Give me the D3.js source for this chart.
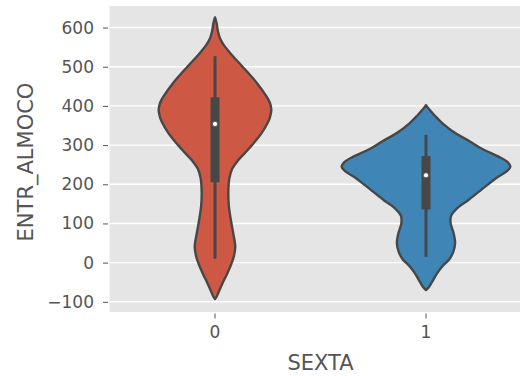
<!DOCTYPE html>
<html>
<head>
<meta charset="utf-8">
<script src="https://cdn.jsdelivr.net/npm/d3@7/dist/d3.min.js"></script>
<style>
  html, body { margin: 0; padding: 0; background: #ffffff; }
  svg { display: block; font-family: "DejaVu Sans", sans-serif; }
</style>
</head>
<body>
<svg id="chart" width="520" height="376"></svg>
<script>
// Categories on the x axis
const categories = ["0", "1"];
const xTitle = "SEXTA";
const yTitle = "ENTR_ALMOCO";
const yTicks = [-100, 0, 100, 200, 300, 400, 500, 600];

// Kernel density estimate of ENTR_ALMOCO for SEXTA = 0
const kdeValues0 = [626, 612, 590, 570, 555, 530, 500, 460, 425, 408, 390, 374, 360, 330, 290, 260, 240, 215, 180, 145, 110, 75, 40, 15, -10, -30, -53, -70, -85, -93];
const kdeDensity0 = [0, 0.018, 0.035, 0.064, 0.105, 0.199, 0.327, 0.491, 0.608, 0.650, 0.667, 0.655, 0.632, 0.550, 0.398, 0.269, 0.205, 0.170, 0.158, 0.164, 0.187, 0.216, 0.240, 0.222, 0.181, 0.140, 0.088, 0.053, 0.023, 0];

// Kernel density estimate of ENTR_ALMOCO for SEXTA = 1
const kdeValues1 = [402, 392, 375, 355, 330, 310, 290, 270, 256, 245, 234, 219, 194, 160, 140, 120, 100, 75, 50, 30, 10, -11, -28, -50, -62, -70];
const kdeDensity1 = [0, 0.035, 0.105, 0.199, 0.351, 0.515, 0.667, 0.865, 0.970, 1.0, 0.962, 0.854, 0.702, 0.503, 0.374, 0.298, 0.292, 0.327, 0.345, 0.327, 0.281, 0.187, 0.129, 0.070, 0.035, 0];

// Box summary per category: lower whisker, Q1, median, Q3, upper whisker
const whiskerLow = [10, 15];
const q1 = [205, 136];
const median = [354, 223];
const q3 = [422, 272];
const whiskerHigh = [527, 326];

const fills = ["#CD5945", "#3F86B6"];
const gray = "#474747";
const textColor = "#555555";

const violins = [
  { cat: categories[0], values: kdeValues0, density: kdeDensity0 },
  { cat: categories[1], values: kdeValues1, density: kdeDensity1 }
];

const svg = d3.select("#chart");
const panel = { left: 109.5, right: 531.5, top: 6, bottom: 312 };

const x = d3.scaleBand()
  .domain(categories)
  .range([panel.left, panel.right])
  .paddingInner(0).paddingOuter(0);
const xc = c => x(c) + x.bandwidth() / 2;

const y = d3.scaleLinear()
  .domain([-126, 655])
  .range([panel.bottom, panel.top]);

const maxDensity = d3.max(violins, v => d3.max(v.density));
const w = d3.scaleLinear()
  .domain([0, maxDensity])
  .range([0, x.bandwidth() * 0.4]);

// Panel background
svg.append("rect")
  .attr("x", panel.left).attr("y", panel.top)
  .attr("width", panel.right - panel.left)
  .attr("height", panel.bottom - panel.top)
  .attr("fill", "#E5E5E5");

// Horizontal grid lines
svg.append("g").selectAll("line")
  .data(yTicks).join("line")
  .attr("x1", panel.left).attr("x2", panel.right)
  .attr("y1", d => y(d)).attr("y2", d => y(d))
  .attr("stroke", "#ffffff").attr("stroke-width", 1.4);

// Y axis
const yAxis = svg.append("g")
  .attr("transform", `translate(${panel.left - 1.5},0)`)
  .call(d3.axisLeft(y).tickValues(yTicks).tickSize(5).tickPadding(9)
    .tickFormat(d => d < 0 ? "\u2212" + Math.abs(d) : String(d)));
yAxis.select(".domain").remove();
yAxis.selectAll(".tick line").attr("stroke", textColor).attr("stroke-width", 1);
yAxis.selectAll(".tick text")
  .attr("fill", textColor)
  .style("font-size", "17px")
  .style("font-family", "DejaVu Sans, sans-serif");

// X axis
const xAxis = svg.append("g")
  .attr("transform", `translate(0,${panel.bottom + 1.5})`)
  .call(d3.axisBottom(x).tickSize(5).tickPadding(7));
xAxis.select(".domain").remove();
xAxis.selectAll(".tick line").attr("stroke", textColor).attr("stroke-width", 1);
xAxis.selectAll(".tick text")
  .attr("fill", textColor)
  .style("font-size", "17px")
  .style("font-family", "DejaVu Sans, sans-serif");

// Violin bodies, mirrored around each category centre
const area = d3.area()
  .curve(d3.curveCatmullRom.alpha(0.5))
  .y(d => y(d[0]));

const g = svg.append("g");
violins.forEach((v, i) => {
  const pts = v.values.map((val, j) => [val, v.density[j]]);
  const cx = xc(v.cat);
  g.append("path")
    .datum(pts)
    .attr("d", area.x0(d => cx - w(d[1])).x1(d => cx + w(d[1])))
    .attr("fill", fills[i])
    .attr("stroke", gray)
    .attr("stroke-width", 2.4)
    .attr("stroke-linejoin", "round");
});

// Inner box: whisker line, interquartile box and median dot
categories.forEach((c, i) => {
  const cx = xc(c);
  g.append("line")
    .attr("x1", cx).attr("x2", cx)
    .attr("y1", y(whiskerLow[i])).attr("y2", y(whiskerHigh[i]))
    .attr("stroke", gray).attr("stroke-width", 3);
  g.append("line")
    .attr("x1", cx).attr("x2", cx)
    .attr("y1", y(q1[i])).attr("y2", y(q3[i]))
    .attr("stroke", gray).attr("stroke-width", 9);
  g.append("circle")
    .attr("cx", cx).attr("cy", y(median[i]))
    .attr("r", 2.6)
    .attr("fill", "#ffffff")
    .attr("stroke", gray).attr("stroke-width", 0.8);
});

// Axis titles
svg.append("text")
  .attr("x", (panel.left + panel.right) / 2)
  .attr("y", 370)
  .attr("text-anchor", "middle")
  .attr("fill", textColor)
  .style("font-size", "21px")
  .text(xTitle);

svg.append("text")
  .attr("transform", `translate(33,${(panel.top + panel.bottom) / 2 + 3}) rotate(-90)`)
  .attr("text-anchor", "middle")
  .attr("fill", textColor)
  .style("font-size", "21px")
  .text(yTitle);
</script>
</body>
</html>
